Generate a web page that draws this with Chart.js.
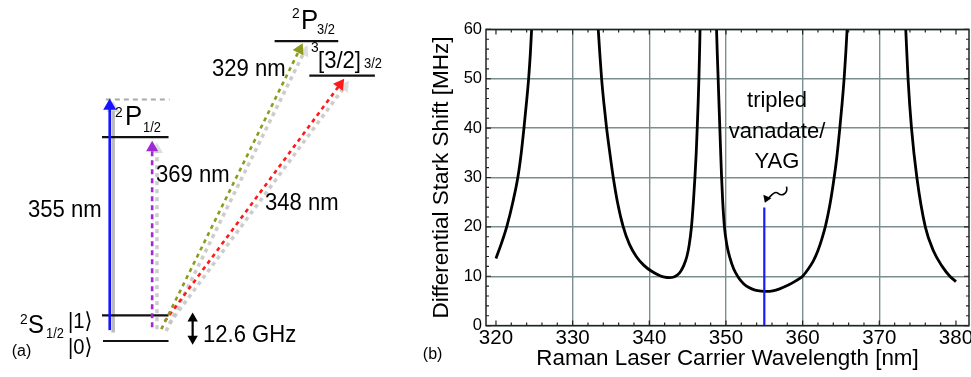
<!DOCTYPE html>
<html><head><meta charset="utf-8">
<script src="https://cdn.jsdelivr.net/npm/chart.js@4.4.1/dist/chart.umd.min.js"></script>
<style>
html,body{margin:0;padding:0;background:#fff;width:971px;height:377px;overflow:hidden;}
#wrap{position:relative;width:971px;height:377px;overflow:hidden;font-family:"Liberation Sans",Arial,"DejaVu Sans",sans-serif;color:#000;}
#diagram{position:absolute;left:0;top:0;}
#stark{position:absolute;left:420px;top:0;}
.lbl{position:absolute;white-space:nowrap;line-height:1;transform-origin:0 50%;}
.ann{position:absolute;width:140px;text-align:center;line-height:1;font-size:22px;white-space:nowrap;}
</style></head><body>
<div id="wrap">
<canvas id="diagram" width="420" height="377"></canvas>
<canvas id="stark" width="600" height="377"></canvas>
</div>
<script>
// ---------------- data (panel b) ----------------
// wavelength [nm]; null separates the branches between resonances
const wavelengthNm = [
  320, 320.7, 321.4, 322.2, 322.85, 323.3, 323.65, 324.0, 324.26, 324.48, 324.65, 329,
  333.34, 333.55, 333.78, 334.08, 334.43, 334.85, 335.3, 335.85, 336.6, 337.4, 338.3, 339.3, 340.3, 341.4, 342.0, 342.6,
  343.2, 343.7, 344.1, 344.5, 344.9, 345.2, 345.5, 345.75, 345.95, 346.12, 346.25, 346.37, 346.47, 346.55, 346.62, 347.7,
  348.77, 348.87, 348.98, 349.09, 349.2, 349.31, 349.43, 349.58, 349.8, 350.1, 350.5, 351.0, 351.6, 352.3, 353.0, 353.8,
  354.6, 355.3, 356.1, 357.0, 358.0, 359.0, 360.0, 360.7, 361.4, 362.0, 362.5, 363.0, 363.5, 364.0, 364.45, 364.85,
  365.15, 365.41, 365.62, 365.8, 370,
  373.45, 373.75, 374.2, 374.9, 376.0, 377.1, 378.2, 379.2, 380
];
const starkShiftMHz = [
  13.6, 16.6, 20, 25, 30, 35, 40, 45.5, 50, 55, 60, null,
  60, 55, 50, 45, 40, 35, 30, 25, 20, 16.5, 14, 12.2, 11, 10.1, 9.8, 9.7,
  9.85, 10.3, 11, 12.2, 14, 16.3, 20, 25, 30, 35, 40, 45, 50, 55, 60, null,
  60, 55, 50, 45, 40, 35, 30, 25, 20, 16.5, 13.8, 11.5, 9.8, 8.5, 7.7, 7.2,
  6.98, 6.92, 7.05, 7.45, 8.1, 8.95, 10, 11.4, 13.1, 15.2, 17.5, 20.3, 24, 28.8, 34, 40,
  45, 50, 55, 60, null,
  60, 50, 40, 30, 20, 15, 12, 10, 8.9
];
const laserWavelengthNm = [355, 355];
const laserMarkerMHz = [0, 23.9];
const xTickValues = [320, 330, 340, 350, 360, 370, 380];
const yTickValues = [0, 10, 20, 30, 40, 50, 60];
const xMinorTicks = [320,322,324,326,328,330,332,334,336,338,340,342,344,346,348,350,352,354,356,358,360,362,364,366,368,370,372,374,376,378,380];
const yMinorTicks = [0,2,4,6,8,10,12,14,16,18,20,22,24,26,28,30,32,34,36,38,40,42,44,46,48,50,52,54,56,58,60];

// ---------------- diagram geometry (panel a, schematic) ----------------
const diagramLevels = [ // [x1, x2, y]
  [98, 167, 135], [98, 167, 320.7], [99, 167, 347.3], [277, 343, 35], [313, 381, 71]
];
const virtualLevel = [102, 168, 95.7];
const transitions = [
  {from:[106,336], tip:[106,95], color:'#1414ff', dash:[], w:2.6, shadow:'solid', r:7.5},
  {from:[150,333], tip:[150,139], color:'rgb(160,40,215)', dash:[5,4], w:2.6, shadow:'dot', r:7},
  {from:[159.5,335], tip:[306,37.5], color:'rgb(140,155,30)', dash:[4,4], w:2.6, shadow:'dot', r:7},
  {from:[163,327], tip:[349,74.5], color:'rgb(255,25,25)', dash:[4,4], w:2.6, shadow:'dot', r:7}
];
const splitArrow = {x:192, top:318, bottom:351};

// ---------------- helpers ----------------
const mainFamily = '"Liberation Sans", Arial, sans-serif';
const wrap = document.getElementById('wrap');
function addLabel(text, x, yc, size, sx){
  const d=document.createElement('div');
  d.className='lbl';
  d.textContent=text;
  d.style.left=x+'px';
  d.style.top=(yc-0.4885*size)+'px';
  d.style.fontSize=size+'px';
  d.style.transform='scaleX('+(sx===undefined?0.92:sx)+')';
  wrap.appendChild(d);
}

// ---------------- panel a (diagram) ----------------
const diagDatasets = [];
function lineDS(pts, color, width, dash, order){
  return {data:pts.map(p=>({x:p[0],y:p[1]})), showLine:true, borderColor:color, borderWidth:width,
    borderDash:dash||[], pointRadius:0, clip:false, fill:false, order:order, tension:0};
}
function headDS(tip, from, r, color, order, off){
  const dx=tip[0]-from[0], dy=tip[1]-from[1], L=Math.hypot(dx,dy), ux=dx/L, uy=dy/L;
  const ang=Math.atan2(dx,-dy)*180/Math.PI;
  return {data:[{x:tip[0]-r*ux+(off?off[0]:0), y:tip[1]-r*uy+(off?off[1]:0)}], showLine:false, pointStyle:'triangle',
    pointRadius:r, rotation:ang, backgroundColor:color, borderColor:color, borderWidth:0, clip:false, order:order};
}
diagramLevels.forEach(l=>diagDatasets.push(lineDS([[l[0],l[2]],[l[1],l[2]]], '#111', 2.2, [], 5)));
diagDatasets.push(lineDS([[virtualLevel[0],virtualLevel[2]],[virtualLevel[1],virtualLevel[2]]], '#aaaaaa', 2, [5,4], 6));
transitions.forEach(t=>{
  const dx=t.tip[0]-t.from[0], dy=t.tip[1]-t.from[1], L=Math.hypot(dx,dy), ux=dx/L, uy=dy/L;
  const end=[t.tip[0]-1.3*t.r*ux, t.tip[1]-1.3*t.r*uy];
  const so = t.shadow==='dot' ? [5,2] : [3.6,2.5];
  diagDatasets.push(lineDS([[t.from[0]+so[0],t.from[1]+so[1]],[end[0]+so[0],end[1]+so[1]]],
     t.shadow==='dot'?'rgba(195,195,195,0.85)':'rgba(175,175,175,0.85)', 3.5,
     t.shadow==='dot'?[4,4]:[], 10));
  diagDatasets.push(headDS(t.tip, t.from, t.r, 'rgba(200,200,200,0.6)', 9, so));
  diagDatasets.push(lineDS([t.from, end], t.color, t.w, t.dash, 4));
  diagDatasets.push(headDS(t.tip, t.from, t.r, t.color, 1));
});
diagDatasets.push(lineDS([[splitArrow.x, splitArrow.top+8],[splitArrow.x, splitArrow.bottom-8]], '#000', 2.2, [], 4));
diagDatasets.push(headDS([splitArrow.x, splitArrow.top],[splitArrow.x, splitArrow.bottom], 6, '#000', 1));
diagDatasets.push(headDS([splitArrow.x, splitArrow.bottom],[splitArrow.x, splitArrow.top], 6, '#000', 1));

new Chart(document.getElementById('diagram'), {
  type:'scatter',
  data:{datasets:diagDatasets},
  options:{responsive:false, animation:false, devicePixelRatio:1, layout:{padding:0},
    plugins:{legend:{display:false}, tooltip:{enabled:false}},
    scales:{x:{type:'linear', min:0, max:420, display:false},
            y:{type:'linear', min:0, max:377, reverse:true, display:false}}}
});

// diagram texts
addLabel('355 nm', 28, 209, 24);
addLabel('369 nm', 155.5, 173.7, 24);
addLabel('329 nm', 212, 67.5, 24);
addLabel('348 nm', 265, 202, 24);
addLabel('12.6 GHz', 203.3, 334, 24);
addLabel('(a)', 11.7, 351, 16, 1);
addLabel('2', 115, 111.5, 15);
addLabel('P', 125, 116, 28);
addLabel('1/2', 143, 126.7, 14);
addLabel('2', 291.7, 12.5, 15);
addLabel('P', 301, 19.3, 28);
addLabel('3/2', 316.7, 28.5, 14);
addLabel('3', 311, 46.7, 15);
addLabel('[3/2]', 318.3, 60, 24);
addLabel('3/2', 364.3, 62.5, 14);
addLabel('2', 20, 318.3, 15);
addLabel('S', 28.3, 324, 26);
addLabel('1/2', 46, 333.3, 14);
addLabel('|1\u27E9', 68.3, 320.7, 22);
addLabel('|0\u27E9', 68.3, 346.7, 22);

// ---------------- panel b (chart) ----------------
const gridColor = 'rgb(122,142,142)';
const framePlugin = {
  id:'frame',
  afterDatasetsDraw(chart){
    const {ctx, chartArea:a, scales:{x, y}} = chart;
    ctx.save();
    ctx.strokeStyle='#222'; ctx.lineWidth=1.2;
    xMinorTicks.forEach(v=>{
      const px=x.getPixelForValue(v), len=(v%10===0)?5:3;
      ctx.beginPath(); ctx.moveTo(px,a.bottom); ctx.lineTo(px,a.bottom-len);
      ctx.moveTo(px,a.top); ctx.lineTo(px,a.top+len); ctx.stroke();
    });
    yMinorTicks.forEach(v=>{
      const py=y.getPixelForValue(v), len=(v%10===0)?5:3;
      ctx.beginPath(); ctx.moveTo(a.left,py); ctx.lineTo(a.left+len,py);
      ctx.moveTo(a.right,py); ctx.lineTo(a.right-len,py); ctx.stroke();
    });
    ctx.lineWidth=1.5; ctx.strokeStyle='#222';
    ctx.strokeRect(a.left, a.top, a.right-a.left, a.bottom-a.top);
    // squiggly annotation arrow pointing at the laser line
    const tx=x.getPixelForValue(355.07), ty=y.getPixelForValue(24.9);
    ctx.strokeStyle='#000'; ctx.lineWidth=1.6;
    ctx.beginPath();
    ctx.moveTo(tx+21.7, ty-16);
    ctx.bezierCurveTo(tx+23.3, ty-9.3, tx+17.3, ty-6, tx+13.3, ty-9.3);
    ctx.bezierCurveTo(tx+10, ty-12, tx+6.7, ty-7.7, tx+3.3, ty-4);
    ctx.stroke();
    ctx.fillStyle='#000';
    ctx.beginPath();
    ctx.moveTo(tx, ty); ctx.lineTo(tx-1.5, ty-8); ctx.lineTo(tx+6.5, ty-4.5); ctx.closePath(); ctx.fill();
    ctx.restore();
  }
};

new Chart(document.getElementById('stark'), {
  type:'scatter',
  data:{datasets:[
    {data:laserWavelengthNm.map((v,i)=>({x:v, y:laserMarkerMHz[i]})), showLine:true, borderColor:'#1a1aff',
     borderWidth:2.2, pointRadius:0, tension:0},
    {data:wavelengthNm.map((v,i)=>({x:v, y:starkShiftMHz[i]})), showLine:true, borderColor:'#000',
     borderWidth:2.8, pointRadius:0, spanGaps:false, cubicInterpolationMode:'monotone'}
  ]},
  options:{
    responsive:false, animation:false, devicePixelRatio:1,
    layout:{padding:{left:0, top:29.4, right:51, bottom:0}},
    plugins:{legend:{display:false}, tooltip:{enabled:false}},
    scales:{
      x:{type:'linear', min:318.7, max:381.7,
         afterBuildTicks:s=>{s.ticks=xTickValues.map(v=>({value:v}));},
         afterFit:s=>{s.height=51.4;},
         grid:{color:c=>(c.tick && (c.tick.value===320 || c.tick.value===380)) ? 'rgba(0,0,0,0)' : gridColor,
               lineWidth:1.4, drawTicks:false},
         border:{display:false},
         ticks:{font:{family:mainFamily, size:20.5}, color:'#000', padding:0, maxRotation:0, autoSkip:false},
         title:{display:true, text:'Raman Laser Carrier Wavelength [nm]', color:'#000',
                font:{family:mainFamily, size:22.4}, padding:{top:0, bottom:5}}},
      y:{type:'linear', min:0, max:60,
         afterBuildTicks:s=>{s.ticks=yTickValues.map(v=>({value:v}));},
         afterFit:s=>{s.width=66;},
         grid:{color:gridColor, lineWidth:1.4, drawTicks:false},
         border:{display:false},
         ticks:{font:{family:mainFamily, size:16.5}, color:'#000', padding:4, autoSkip:false},
         title:{display:true, text:'Differential Stark Shift [MHz]', color:'#000',
                font:{family:mainFamily, size:22.5}, padding:{top:8.5, bottom:0}}}
    }
  },
  plugins:[framePlugin]
});

addLabel('(b)', 422.8, 354, 16, 1);
[['tripled',108],['vanadate/',138.5],['YAG',169]].forEach(([t,b])=>{
  const d=document.createElement('div'); d.className='ann'; d.textContent=t;
  d.style.left=(777-70)+'px'; d.style.top=(b-0.8465*22)+'px'; wrap.appendChild(d);
});
</script>
</body></html>
